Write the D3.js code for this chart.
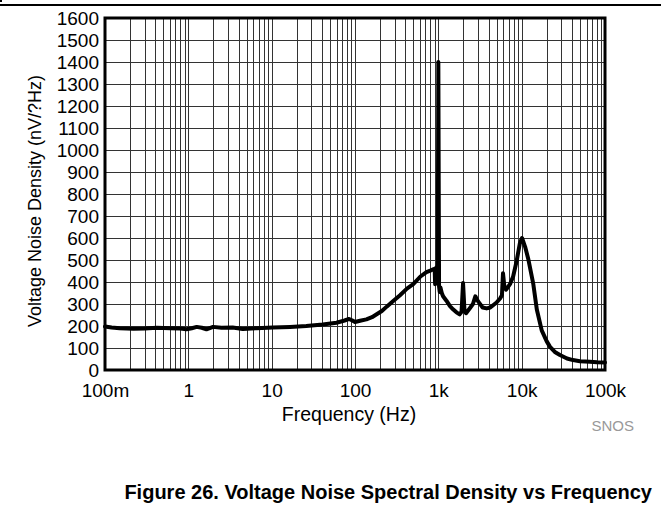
<!DOCTYPE html>
<html>
<head>
<meta charset="utf-8">
<script src="https://cdn.jsdelivr.net/npm/d3@7"></script>
<style>
  html, body { margin: 0; padding: 0; background: #fff; }
  svg { display: block; }
  text { font-family: "Liberation Sans", Arial, sans-serif; }
</style>
</head>
<body>
<svg id="chart" width="661" height="516"></svg>
<script>
// ---- data ----
const frequencyHz = [0.1, 0.12, 0.15, 0.22, 0.3, 0.42, 0.6, 0.8, 0.95, 1.1, 1.26, 1.45, 1.65, 1.98, 2.5, 3.4, 4.5, 6.6, 10.3, 16.6, 26, 41, 60, 75, 85, 93, 100, 115, 137, 160, 180, 210, 240, 290, 347, 420, 500, 610, 720, 800, 880, 905, 915, 925, 960, 985, 1000, 1020, 1040, 1060, 1100, 1140, 1250, 1380, 1500, 1650, 1800, 1900, 1980, 2060, 2150, 2400, 2600, 2780, 2900, 3000, 3400, 3800, 4200, 5000, 5500, 5800, 5970, 6200, 6500, 7240, 7900, 8700, 9500, 10100, 11000, 12000, 13800, 15200, 17400, 20000, 21900, 25000, 28800, 35000, 41300, 50000, 66000, 80000, 100000];
const noiseDensity = [198, 193, 190, 188, 189, 192, 190, 189, 185, 190, 196, 192, 185, 196, 192, 193, 186, 190, 193, 196, 200, 207, 215, 225, 232, 225, 218, 224, 230, 240, 252, 268, 288, 315, 340, 370, 390, 425, 445, 452, 459, 455, 390, 462, 468, 472, 1400, 380, 355, 375, 350, 335, 315, 290, 276, 262, 253, 265, 395, 270, 258, 282, 300, 335, 322, 312, 284, 280, 284, 307, 325, 340, 440, 380, 365, 390, 425, 495, 575, 600, 560, 505, 390, 275, 180, 130, 105, 82, 68, 52, 45, 40, 37, 35, 34];
const xTickValues = [0.1, 1, 10, 100, 1000, 10000, 100000];
const xTickLabels = ["100m", "1", "10", "100", "1k", "10k", "100k"];
const yTickValues = [0, 100, 200, 300, 400, 500, 600, 700, 800, 900, 1000, 1100, 1200, 1300, 1400, 1500, 1600];

const xTitle = "Frequency (Hz)";
const yTitle = "Voltage Noise Density (nV/?Hz)";
const figTitle = "Figure 26. Voltage Noise Spectral Density vs Frequency";
const sourceNote = "SNOS";

// ---- layout ----
const L = 105, R = 605, T = 18, B = 370;
const FONT = "'Liberation Sans', Arial, sans-serif";
const svg = d3.select("#chart");

const x = d3.scaleLog().domain([0.1, 100000]).range([L, R]);
const y = d3.scaleLinear().domain([0, 1600]).range([B, T]);

// top rule
svg.append("line").attr("x1", 0).attr("x2", 661).attr("y1", 5).attr("y2", 5)
  .attr("stroke", "#000").attr("stroke-width", 2);
svg.append("rect").attr("x", 0).attr("y", 0).attr("width", 2).attr("height", 2).attr("fill", "#000");

// grid: vertical lines for each 1..9 per decade
const vGrid = [];
for (let e = -1; e < 5; e++) {
  for (let m = 1; m <= 9; m++) vGrid.push(m * Math.pow(10, e));
}
vGrid.push(100000);
const grid = svg.append("g");
grid.selectAll("line.v").data(vGrid).enter().append("line")
  .attr("x1", d => Math.round(x(d)) + 0.5).attr("x2", d => Math.round(x(d)) + 0.5)
  .attr("y1", T).attr("y2", B)
  .attr("stroke", "#333").attr("stroke-width", 1);
grid.selectAll("line.h").data(yTickValues).enter().append("line")
  .attr("y1", d => Math.round(y(d)) + 0.5).attr("y2", d => Math.round(y(d)) + 0.5)
  .attr("x1", L).attr("x2", R)
  .attr("stroke", "#333").attr("stroke-width", 1);

// axes labels via d3 axes (no lines)
const yAxis = d3.axisLeft(y).tickValues(yTickValues).tickFormat(d3.format("d"))
  .tickSize(0).tickPadding(6);
const yg = svg.append("g").attr("transform", `translate(${L},0)`).call(yAxis);
yg.select(".domain").remove();
yg.selectAll("text").attr("font-size", 19).attr("fill", "#000").attr("font-family", FONT);

const xAxis = d3.axisBottom(x).tickValues(xTickValues)
  .tickFormat((d, i) => xTickLabels[i]).tickSize(0).tickPadding(14);
const xg = svg.append("g").attr("transform", `translate(0,${B})`).call(xAxis);
xg.select(".domain").remove();
xg.selectAll("text").attr("font-size", 19).attr("fill", "#000").attr("font-family", FONT);

// curve
const line = d3.line().x((d, i) => x(frequencyHz[i])).y(d => y(d)).curve(d3.curveLinear);
svg.append("path").datum(noiseDensity)
  .attr("d", line).attr("fill", "none").attr("stroke", "#000")
  .attr("stroke-width", 4).attr("stroke-linejoin", "round").attr("stroke-linecap", "round");

// border
svg.append("rect").attr("x", L).attr("y", T).attr("width", R - L).attr("height", B - T)
  .attr("fill", "none").attr("stroke", "#000").attr("stroke-width", 3);

// titles
svg.append("text").attr("x", 349).attr("y", 421).attr("text-anchor", "middle")
  .attr("font-size", 19.5).text(xTitle);
svg.append("text").attr("transform", "translate(41,201) rotate(-90)")
  .attr("text-anchor", "middle").attr("font-size", 18).text(yTitle);
svg.append("text").attr("x", 634).attr("y", 431).attr("text-anchor", "end")
  .attr("font-size", 15).attr("fill", "#999").text(sourceNote);
svg.append("text").attr("x", 652).attr("y", 499).attr("text-anchor", "end")
  .attr("font-size", 20).attr("font-weight", "bold").text(figTitle);
</script>
</body>
</html>
